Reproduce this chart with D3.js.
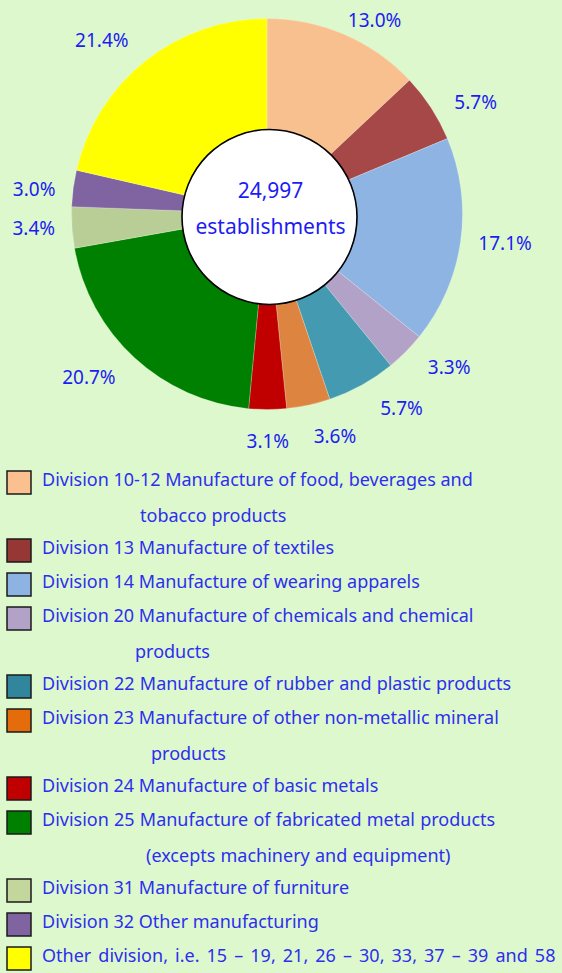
<!DOCTYPE html>
<html>
<head>
<meta charset="utf-8">
<script src="https://cdn.jsdelivr.net/npm/d3@7"></script>
<style>
  html, body { margin: 0; padding: 0; background: #ddf8cc; }
  svg { display: block; }
</style>
</head>
<body>
<svg id="chart" width="562" height="973"></svg>
<script>
// ---------------- DATA ----------------
const categories = [
  "Division 10-12 Manufacture of food, beverages and\ntobacco products",
  "Division 13 Manufacture of textiles",
  "Division 14 Manufacture of wearing apparels",
  "Division 20 Manufacture of chemicals and chemical\nproducts",
  "Division 22 Manufacture of rubber and plastic products",
  "Division 23 Manufacture of other non-metallic mineral\nproducts",
  "Division 24 Manufacture of basic metals",
  "Division 25 Manufacture of fabricated metal products\n(excepts machinery and equipment)",
  "Division 31 Manufacture of furniture",
  "Division 32 Other manufacturing",
  "Other division, i.e. 15 \u2013 19, 21, 26 \u2013 30, 33, 37 \u2013 39 and 58"
];
const shares = [13.0, 5.7, 17.1, 3.3, 5.7, 3.6, 3.1, 20.7, 3.4, 3.0, 21.4];
const totalLabel = ["24,997", "establishments"];

// ---------------- STYLE ----------------
const sliceColors = ["#f9c08f", "#a74848", "#8eb4e3", "#b3a2c7", "#449ab1", "#dd8540",
                     "#c00000", "#008000", "#b9cd96", "#8064a2", "#ffff00"];
const legendColors = ["#fac090", "#953735", "#8db3e2", "#b3a2c7", "#31859c", "#e46c0a",
                      "#c00000", "#008000", "#c3d69b", "#8064a2", "#ffff00"];
const wrapIndent = [140, 0, 0, 135, 0, 151, 0, 146, 0, 0, 0];
const legendWordSpacing = [0, 0, 0, 0, 0.5, 0, 0, 0.5, 0, 0, 2.4];
const textBlue = "#1c1cf4";
const legendBlue = "#2e2ef0";

const W = 562, H = 973;
const cx = 267, cy = 214, R = 195.5;
const holeR = 87.5, holeDx = 2.5, holeDy = 3;

const svg = d3.select("#chart");
svg.append("rect").attr("width", W).attr("height", H).attr("fill", "#ddf8cc");

const pie = d3.pie().sort(null).value(d => d);
const arcs = pie(shares);
const arc = d3.arc().innerRadius(0).outerRadius(R);

const g = svg.append("g").attr("transform", `translate(${cx},${cy})`);
g.selectAll("path.slice").data(arcs).join("path")
  .attr("class", "slice")
  .attr("d", arc)
  .attr("fill", (d, i) => sliceColors[i])
  .attr("stroke", "rgba(255,255,255,0.45)")
  .attr("stroke-width", 0.5);

// center hole
g.append("circle")
  .attr("cx", holeDx).attr("cy", holeDy).attr("r", holeR)
  .attr("fill", "#fff").attr("stroke", "#000").attr("stroke-width", 1.6);

g.selectAll("text.total").data(totalLabel).join("text")
  .attr("class", "total")
  .attr("x", holeDx + 1)
  .attr("y", (d, i) => -16 + i * 36)
  .attr("text-anchor", "middle")
  .attr("font-family", "'Noto Sans', sans-serif")
  .attr("font-size", 21)
  .attr("fill", textBlue)
  .text(d => d);

// percentage labels: outside end, spread towards the horizontal,
// de-overlapped and kept inside the chart area
const labelFont = 19, gap = 16, halfH = 14.5, minCenterY = 18.5;
const spread = 5 * Math.PI / 180;      // pull labels toward the 3/9 o'clock axis
const padX = 12, padY = 14;            // label box half-height incl. padding = padY
const lbl = g.selectAll("text.pct").data(arcs).join("text")
  .attr("class", "pct")
  .attr("text-anchor", "middle")
  .attr("dominant-baseline", "central")
  .attr("font-family", "'Noto Sans', sans-serif")
  .attr("font-size", labelFont)
  .attr("fill", textBlue)
  .text(d => d3.format(".1f")(d.data) + "%");

const infos = [];
lbl.each(function(d) {
  const halfW = this.getComputedTextLength() / 2;
  const mid = (d.startAngle + d.endAngle) / 2;
  infos.push({ node: this, halfW, a: mid + spread * Math.sin(2 * mid) });
});
const dist = (ang, hw) => R + gap + Math.abs(Math.sin(ang)) * hw + Math.abs(Math.cos(ang)) * halfH;
const place = o => {
  const dd = dist(o.a, o.halfW);
  o.x = Math.sin(o.a) * dd; o.y = -Math.cos(o.a) * dd;
};
const overlaps = (p, q) =>
  Math.abs(p.x - q.x) < p.halfW + q.halfW + 2 * padX &&
  Math.abs(p.y - q.y) < 2 * padY;

// place labels nearest the bottom first, push later ones away toward the top
const order = infos.slice().sort((p, q) => Math.abs(p.a - Math.PI) - Math.abs(q.a - Math.PI));
const placed = [];
order.forEach(o => {
  place(o);
  const dir = o.a < Math.PI ? -1 : 1;
  for (let k = 0; k < 300 && placed.some(p => overlaps(o, p)); k++) {
    o.a += dir * 0.004;
    place(o);
  }
  if (o.y + cy < minCenterY) o.y = minCenterY - cy;
  placed.push(o);
});
infos.forEach(o => d3.select(o.node).attr("x", o.x).attr("y", o.y + 1));

// ---------------- LEGEND ----------------
const legTop = 470, lineStep = 34, contStep = 36, sw = 24, swH = 23;
const textX = 42, legFont = 18;
let yCursor = legTop;
const legend = svg.append("g");
categories.forEach((name, i) => {
  const lines = name.split("\n");
  const row = legend.append("g").attr("transform", `translate(0,${yCursor})`);
  row.append("rect")
    .attr("x", 7).attr("y", 1).attr("width", sw).attr("height", swH)
    .attr("fill", legendColors[i]).attr("stroke", "#1a1a1a").attr("stroke-width", 1.5);
  lines.forEach((ln, j) => {
    row.append("text")
      .attr("x", j === 0 ? textX : wrapIndent[i])
      .attr("y", 16 + j * contStep)
      .attr("font-family", "'Noto Sans', sans-serif")
      .attr("font-size", legFont)
      .attr("word-spacing", legendWordSpacing[i])
      .attr("fill", legendBlue)
      .text(ln);
  });
  yCursor += lineStep * lines.length;
});
</script>
</body>
</html>
